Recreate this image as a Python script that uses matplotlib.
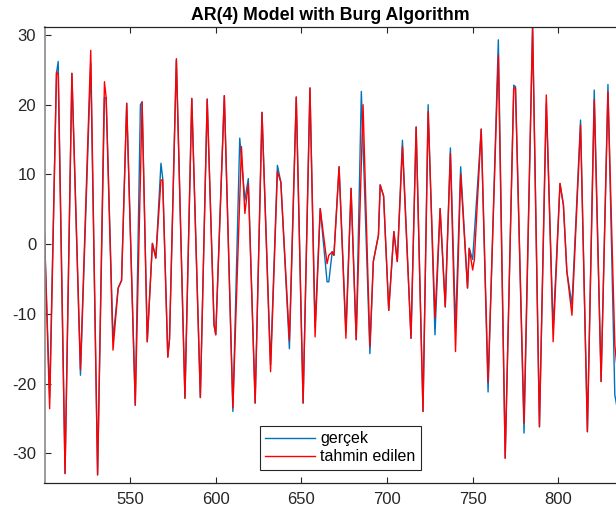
import matplotlib
matplotlib.use("Agg")
import matplotlib.pyplot as plt

plt.rcParams["font.family"] = ["Liberation Sans", "DejaVu Sans"]
plt.rcParams["axes.unicode_minus"] = False

# gerçek (true series) - turning points
t_true = [500, 503, 507, 508, 512, 516, 521, 527, 531, 535, 536, 540, 543, 545, 548,
          553, 556, 557, 560, 563, 565, 568, 569, 572, 573, 577, 582, 586, 591, 595,
          599, 600, 605, 610, 614, 617, 619, 623, 627, 632, 636, 638, 643, 647, 651,
          655, 658, 661, 665, 666, 668, 669, 672, 676, 679, 682, 685, 690, 692, 695,
          696, 698, 701, 704, 706, 709, 714, 717, 721, 724, 728, 731, 734, 737, 740,
          743, 747, 748, 750, 755, 759, 765, 769, 774, 775, 780, 785, 789, 793, 797,
          801, 803, 805, 808, 813, 817, 821, 825, 829, 833, 834]
v_true = [1.5, -22.0, 24.5, 26.2, -32.9, 24.5, -18.8, 26.0, -33.1, 21.0, 21.0, -13.6, -6.3, -5.2, 20.2,
          -23.1, 20.0, 20.4, -14.0, 0.1, -2.0, 11.6, 9.5, -16.2, -13.6, 26.4, -22.1, 20.9, -22.0, 20.8,
          -11.6, -13.0, 21.3, -24.0, 15.2, 6.3, 9.4, -22.8, 18.9, -17.3, 11.3, 8.9, -15.0, 21.1, -22.8,
          22.4, -11.9, 5.1, -5.4, -5.4, -1.1, -1.6, 11.1, -12.5, 8.0, -13.7, 21.9, -15.7, -2.5, 1.3,
          8.5, 6.9, -9.5, 1.8, -2.5, 14.9, -13.5, 16.8, -24.0, 20.0, -13.0, 5.1, -9.0, 13.8, -12.1,
          11.1, -6.3, -0.6, -2.2, 16.5, -21.2, 29.3, -30.7, 22.8, 22.6, -27.1, 31.2, -26.2, 20.2, -12.1,
          8.7, 5.6, -3.9, -8.7, 17.8, -26.9, 22.1, -19.7, 22.9, -21.6, -23.0]

# tahmin edilen (Burg AR(4) prediction)
t_pred = [500, 503, 507, 508, 512, 516, 521, 527, 531, 535, 536, 540, 543, 545, 548,
          553, 557, 560, 563, 565, 568, 569, 572, 573, 577, 582, 586, 591, 595, 599,
          600, 605, 610, 615, 617, 619, 623, 627, 632, 636, 638, 643, 647, 651, 655,
          658, 661, 665, 666, 668, 669, 672, 676, 679, 682, 686, 690, 692, 695, 696,
          698, 701, 704, 706, 709, 714, 717, 721, 724, 728, 731, 734, 737, 740, 743,
          747, 748, 750, 751, 755, 759, 765, 769, 774, 775, 780, 785, 789, 793, 797,
          801, 803, 805, 808, 813, 817, 821, 825, 829, 833, 834]
v_pred = [1.5, -23.6, 24.7, 24.3, -32.9, 24.5, -18.0, 27.8, -33.1, 23.3, 21.0, -15.2, -6.3, -5.2, 20.2,
          -23.1, 20.4, -14.0, 0.1, -2.0, 9.2, 9.2, -16.2, -13.6, 26.6, -22.1, 20.9, -22.0, 20.8, -11.6,
          -13.0, 21.3, -23.5, 14.0, 4.4, 8.7, -22.8, 18.9, -18.3, 10.4, 8.9, -13.8, 21.1, -22.8, 22.4,
          -13.3, 5.1, -2.8, -1.6, -1.1, -1.6, 11.1, -13.5, 8.0, -13.7, 20.0, -14.7, -2.5, 1.3, 8.5,
          6.9, -9.5, 1.8, -2.5, 14.0, -13.5, 16.8, -24.0, 19.0, -10.6, 5.1, -9.0, 13.0, -15.4, 10.0,
          -6.3, -0.6, -3.7, -2.2, 16.5, -19.8, 27.1, -30.7, 22.4, 22.4, -25.7, 31.2, -26.2, 21.4, -14.0,
          8.7, 5.6, -3.9, -10.2, 17.1, -26.9, 20.7, -19.7, 21.8, -14.4, -17.0]

fig = plt.figure(figsize=(6.16, 5.18), dpi=100)
ax = fig.add_axes([44.5 / 616, 34.7 / 518, 1 - 44.5 / 616, 456 / 518])

ax.plot(t_true, v_true, color="#0072BD", lw=1.0, label="gerçek")
ax.plot(t_pred, v_pred, color="#FF0000", lw=1.0, label="tahmin edilen")

ax.set_xlim(500, 833.7)
ax.set_ylim(-34.3, 31.1)
ax.set_xticks([550, 600, 650, 700, 750, 800])
ax.set_yticks([-30, -20, -10, 0, 10, 20, 30])
ax.tick_params(direction="in", length=4.3, width=0.8, labelsize=12, colors="#262626",
               top=True, right=False, pad=6)
for s in ["top", "bottom"]:
    ax.spines[s].set_color("#262626")
    ax.spines[s].set_linewidth(0.9)
ax.spines["left"].set_color("#8a8a8a")
ax.spines["left"].set_linewidth(1.2)
ax.spines["right"].set_visible(False)

ax.set_title("AR(4) Model with Burg Algorithm", fontsize=12.8, fontweight="bold", pad=5)

leg = ax.legend(loc="lower center", bbox_to_anchor=(340.5 / 616, 48 / 518),
                bbox_transform=fig.transFigure, fontsize=11.5, fancybox=False,
                edgecolor="#262626", framealpha=1, handlelength=3.1, borderpad=0.35,
                labelspacing=0.2, handletextpad=0.35, borderaxespad=0)
leg.get_frame().set_linewidth(0.8)

fig.savefig("out.png", dpi=100)
